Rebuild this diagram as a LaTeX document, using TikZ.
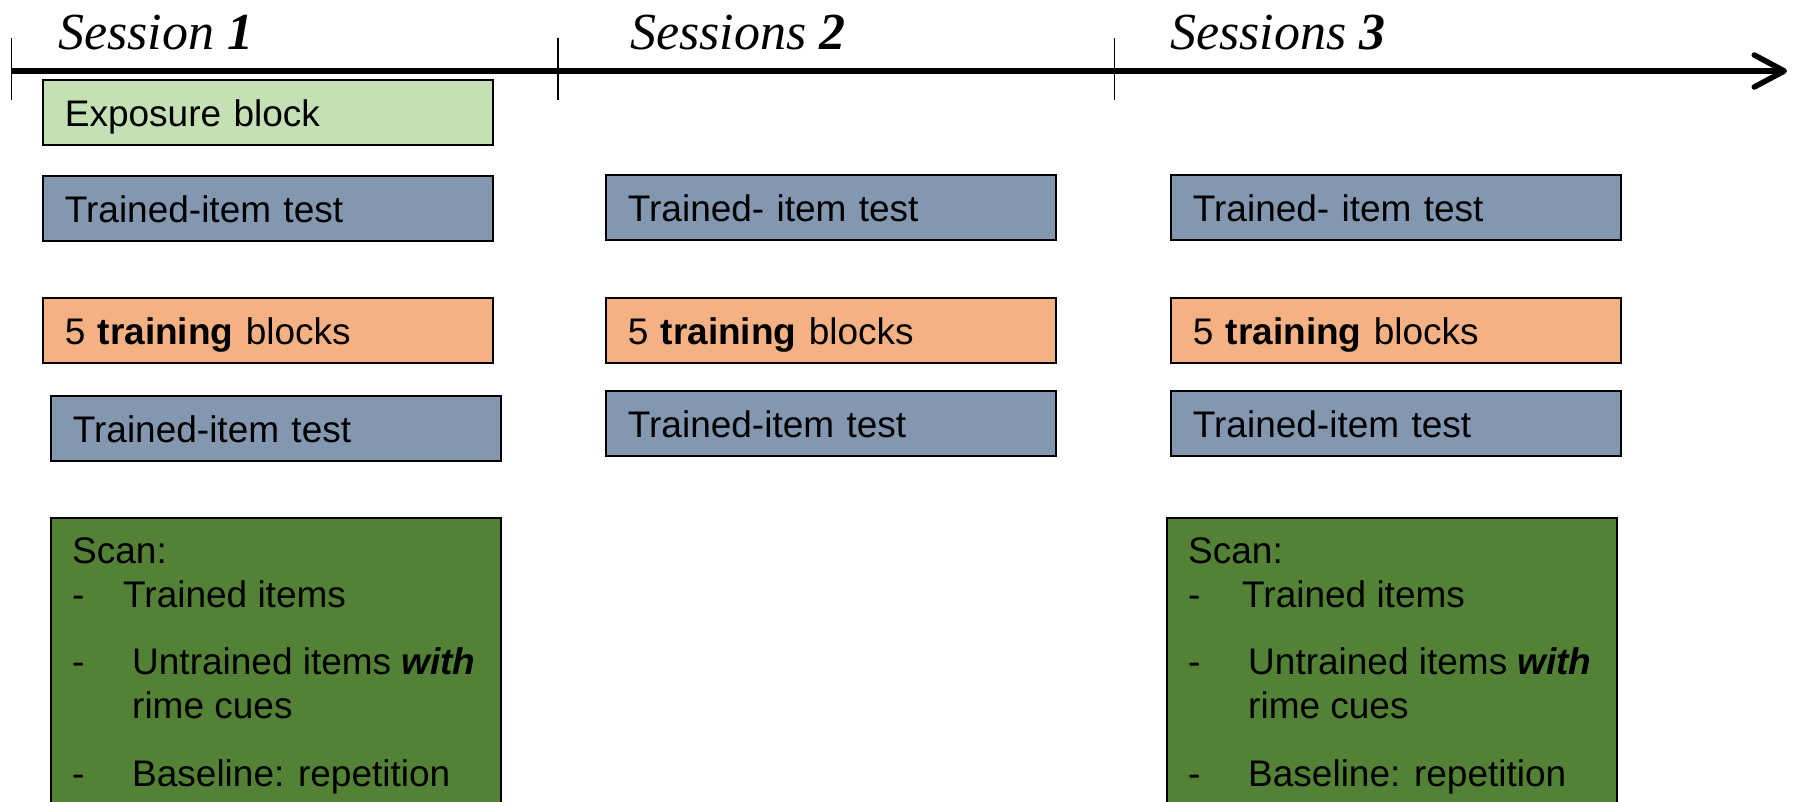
\documentclass[tikz,border=0pt]{standalone}
\usepackage{fontspec}
\setmainfont{Liberation Sans}
\newfontfamily\timesf{Liberation Serif}
\usetikzlibrary{arrows.meta}

\definecolor{expo}{HTML}{C5E0B4}
\definecolor{testc}{HTML}{8497B0}
\definecolor{trainc}{HTML}{F4B183}
\definecolor{scanc}{HTML}{538135}

\begin{document}
\begin{tikzpicture}[x=1pt,y=-1pt,
    box/.style={draw, line width=1.8pt, anchor=north west, inner xsep=22pt, inner ysep=0pt,
        text width=406pt, text height=28pt, text depth=0pt, minimum height=65pt, align=left,
        font=\fontsize{37}{44}\selectfont},
    line/.style={anchor=base west, inner sep=0pt, font=\fontsize{37}{44}\selectfont},
    title/.style={anchor=base west, inner sep=0pt, font=\timesf\itshape\fontsize{52}{60}\selectfont}]
        \useasboundingbox (0,0) rectangle (1796,802);
        \clip (0,0) rectangle (1796,802);

        \coordinate (t0) at (11.5,71);
        \coordinate (end) at (1787,71);
        \draw[line width=5.5pt, -{Straight Barb[length=30pt,width=32pt,round]}] (t0) -- (end);
        \draw[line width=1.5pt] (11.5,38) -- (11.5,100);
        \draw[line width=1.5pt] (558,38) -- (558,100);
        \draw[line width=1.5pt] (1114.5,38) -- (1114.5,100);

        \node[title] (s1) at (58,50) {Session \textbf{1}};
        \node[title] (s2) at (630,50) {Sessions \textbf{2}};
        \node[title] (s3) at (1170,50) {Sessions \textbf{3}};

        \node[box, fill=expo] (ex) at (42,79) {Exposure block};
        \node[box, fill=testc] (ta1) at (42,175) {Trained-item test};
        \node[box, fill=trainc] (tr1) at (42,297) {5 \textbf{training} blocks};
        \node[box, fill=testc] (tb1) at (50,395) {Trained-item test};

        \node[box, fill=testc] (ta2) at (605,174) {Trained- item test};
        \node[box, fill=trainc] (tr2) at (605,297) {5 \textbf{training} blocks};
        \node[box, fill=testc] (tb2) at (605,390) {Trained-item test};

        \node[box, fill=testc] (ta3) at (1170,174) {Trained- item test};
        \node[box, fill=trainc] (tr3) at (1170,297) {5 \textbf{training} blocks};
        \node[box, fill=testc] (tb3) at (1170,390) {Trained-item test};

        \node[box, fill=scanc, minimum height=330pt] (sc1) at (50,517) {};
        \node[line] (sc1a) at (72,563) {Scan:};
        \node[line] (sc1b) at (72,607) {-};
        \node[line] (sc1c) at (123,607) {Trained items};
        \node[line] (sc1d) at (72,674) {-};
        \node[line] (sc1e) at (132,674) {Untrained items \textbf{\textit{with}}};
        \node[line] (sc1f) at (132,718) {rime cues};
        \node[line] (sc1g) at (72,786) {-};
        \node[line] (sc1h) at (132,786) {Baseline: repetition};

        \node[box, fill=scanc, minimum height=330pt] (sc3) at (1166,517) {};
        \node[line] (sc3a) at (1188,563) {Scan:};
        \node[line] (sc3b) at (1188,607) {-};
        \node[line] (sc3c) at (1242,607) {Trained items};
        \node[line] (sc3d) at (1188,674) {-};
        \node[line] (sc3e) at (1248,674) {Untrained items \textbf{\textit{with}}};
        \node[line] (sc3f) at (1248,718) {rime cues};
        \node[line] (sc3g) at (1188,786) {-};
        \node[line] (sc3h) at (1248,786) {Baseline: repetition};
    \end{tikzpicture}
\end{document}
